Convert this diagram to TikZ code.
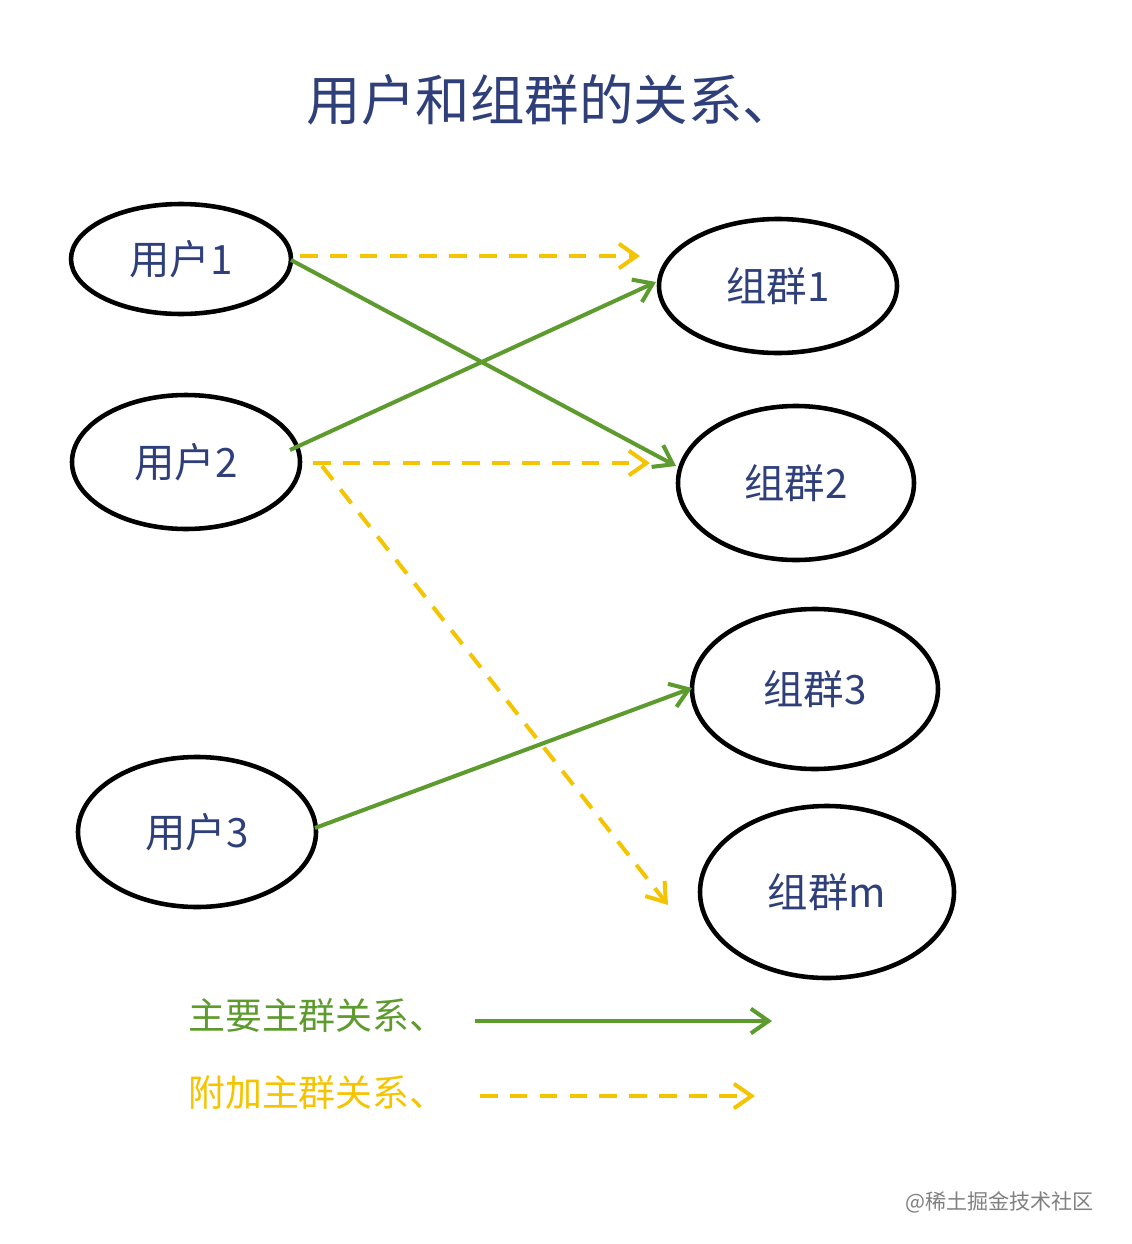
\documentclass[tikz,border=0pt]{standalone}
\usepackage{fontspec}
\newfontfamily\cjk{Noto Sans CJK SC}
\usetikzlibrary{arrows.meta}
\definecolor{ink}{HTML}{2E3F7A}
\definecolor{grn}{HTML}{5E9B2F}
\definecolor{ylw}{HTML}{F5C400}
\begin{document}
\begin{tikzpicture}[x=0.02cm,y=-0.02cm,
  lbl/.style={font=\cjk\fontsize{23}{27}\selectfont,text=ink},
  main/.style={draw=grn,line width=2.3pt,-{Straight Barb[length=10pt,width=14pt]}},
  extra/.style={draw=ylw,line width=2.3pt,dash pattern=on 10pt off 7pt,-{Straight Barb[length=10pt,width=14pt]}}]
\useasboundingbox (0,0) rectangle (1132,1244);
\newcommand\ellnode[6]{\draw[line width=2.6pt] (#2,#3) ellipse [x radius=#4,y radius=#5]; \node[lbl] (#1) at (#2,#3) {#6};}
\node[font=\cjk\fontsize{31}{36}\selectfont,text=ink] (title) at (552,100) {用户和组群的关系、};
\ellnode{u1}{181}{259}{110}{55}{用户1}
\ellnode{u2}{186}{462}{114}{67}{用户2}
\ellnode{u3}{197}{832}{119}{75}{用户3}
\ellnode{g1}{778}{286}{119}{67}{组群1}
\ellnode{g2}{796}{483}{118}{77}{组群2}
\ellnode{g3}{815}{689}{123}{80}{组群3}
\ellnode{gm}{827}{892}{127}{86}{组群m}
\coordinate (y1) at (640,256);
\coordinate (y2) at (650,463);
\coordinate (y3) at (668,905);
\coordinate (y2s) at (313,463);
\coordinate (y3s) at (322,466);
\coordinate (y1s) at (300,256);
\draw[main] (291,260) -- (676,466);
\draw[main] (290,450) -- (656,282);
\draw[main] (315,828) -- (692,688);
\draw[extra] (y1s) -- (y1);
\draw[extra] (y2s) -- (y2);
\draw[extra] (y3s) -- (y3);
\node[font=\cjk\fontsize{21}{25}\selectfont,text=grn,anchor=west] (l1) at (182,1015) {主要主群关系、};
\node[font=\cjk\fontsize{21}{25}\selectfont,text=ylw,anchor=west] (l2) at (182,1092) {附加主群关系、};
\coordinate (a1) at (475,1021); \coordinate (b1) at (772,1021);
\coordinate (a2) at (480,1096); \coordinate (b2) at (755,1096);
\draw[main] (a1) -- (b1);
\draw[extra] (a2) -- (b2);
\node[font=\cjk\fontsize{12}{14}\selectfont,text=gray,anchor=east] (wm) at (1100,1202) {@稀土掘金技术社区};
\end{tikzpicture}
\end{document}
